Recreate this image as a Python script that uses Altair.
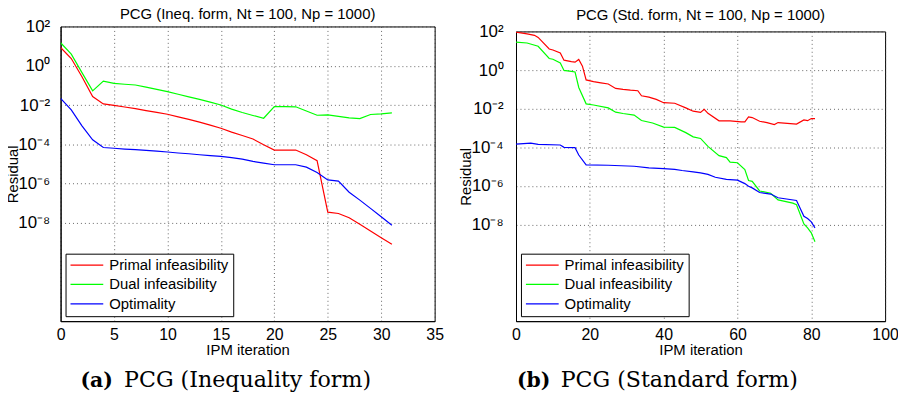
import altair as alt
import pandas as pd

# ---------------- data (log10 of residual) ----------------
series_names = ["Primal infeasibility", "Dual infeasibility", "Optimality"]
series_colors = ["#ff0000", "#00ff00", "#0000ff"]

# (a) Inequality form
ineq_iter = list(range(32))
ineq_primal = [0.93, 0.37, -0.56, -1.57, -1.94, -2.02, -2.10, -2.18, -2.28, -2.37, -2.47,
               -2.60, -2.73, -2.87, -3.02, -3.18, -3.38, -3.55, -3.73, -4.02, -4.29, -4.29,
               -4.29, -4.53, -4.83, -7.45, -7.52, -7.74, -8.07, -8.41, -8.75, -9.08]
ineq_dual = [1.17, 0.59, -0.35, -1.28, -0.78, -0.90, -0.94, -0.98, -1.09, -1.20, -1.32,
             -1.45, -1.58, -1.71, -1.85, -2.00, -2.21, -2.38, -2.53, -2.67, -2.08, -2.08,
             -2.09, -2.30, -2.52, -2.50, -2.58, -2.65, -2.69, -2.48, -2.45, -2.40]
ineq_opt = [-1.66, -2.25, -3.06, -3.77, -4.16, -4.20, -4.24, -4.27, -4.31, -4.35, -4.39,
            -4.44, -4.48, -4.53, -4.57, -4.61, -4.68, -4.75, -4.87, -4.96, -5.04, -5.04,
            -5.04, -5.16, -5.43, -5.81, -5.87, -6.44, -6.84, -7.26, -7.69, -8.12]

# (b) Standard form
std_primal_iter = [0, 3, 5, 6, 9, 10, 12, 13, 15, 16, 17, 18, 19, 21, 23, 25, 27, 29, 31, 33,
                   34, 36, 38, 40, 43, 46, 48, 50, 51, 52, 55, 58, 61, 62, 63, 64, 66, 68, 70,
                   71, 76, 78, 79, 80, 81]
std_primal = [1.96, 1.87, 1.80, 1.69, 1.09, 1.04, 0.89, 0.51, 0.44, 0.41, 0.55, 0.20, -0.51,
              -0.60, -0.66, -0.72, -0.95, -1.00, -1.04, -1.07, -1.33, -1.40, -1.52, -1.69,
              -1.72, -1.96, -2.13, -2.19, -2.03, -2.24, -2.63, -2.63, -2.68, -2.68, -2.43,
              -2.46, -2.65, -2.72, -2.82, -2.72, -2.80, -2.58, -2.62, -2.51, -2.51]
std_dual_iter = [0, 3, 6, 9, 10, 12, 13, 15, 16, 17, 19, 21, 25, 27, 29, 32, 34, 37, 40, 43,
                 46, 48, 50, 52, 55, 57, 58, 60, 62, 63, 64, 66, 69, 71, 75, 76, 78, 79, 80, 81]
std_dual = [1.45, 1.40, 1.23, 0.60, 0.56, 0.37, -0.02, -0.07, -0.10, -0.90, -1.75, -1.81,
            -1.96, -2.18, -2.25, -2.33, -2.61, -2.74, -2.95, -2.97, -3.24, -3.46, -3.54,
            -3.95, -4.43, -4.53, -4.77, -4.80, -5.15, -5.72, -5.76, -6.26, -6.38, -6.72,
            -6.89, -6.97, -7.97, -8.17, -8.43, -8.89]
std_opt_iter = [0, 4, 6, 12, 13, 16, 17, 19, 25, 32, 36, 40, 43, 45, 48, 50, 52, 54, 57, 60,
                62, 63, 64, 66, 69, 71, 76, 78, 79, 80, 81]
std_opt = [-3.83, -3.78, -3.85, -3.88, -4.00, -4.02, -4.40, -4.91, -4.93, -4.98, -5.06,
           -5.10, -5.14, -5.20, -5.27, -5.32, -5.40, -5.55, -5.66, -5.70, -5.88, -6.02,
           -6.10, -6.34, -6.42, -6.61, -6.75, -7.57, -7.69, -7.86, -8.17]

y_ticks = [2, 0, -2, -4, -6, -8]
y_sup = {2: "²", 0: "⁰", -2: "⁻²", -4: "⁻⁴", -6: "⁻⁶", -8: "⁻⁸"}
ineq_xticks = [0, 5, 10, 15, 20, 25, 30, 35]
std_xticks = [0, 20, 40, 60, 80, 100]

titles = ["PCG (Ineq. form, Nt = 100, Np = 1000)", "PCG (Std. form, Nt = 100, Np = 1000)"]
caption_tags = ["(a)", "(b)"]
caption_texts = ["PCG (Inequality form)", "PCG (Standard form)"]


def frame(iters_list, vals_list):
    rows = []
    for name, its, vs in zip(series_names, iters_list, vals_list):
        for i, v in zip(its, vs):
            rows.append({"iter": i, "res": v, "series": name})
    return pd.DataFrame(rows)


ineq_df = frame([ineq_iter, ineq_iter, ineq_iter], [ineq_primal, ineq_dual, ineq_opt])
std_df = frame([std_primal_iter, std_dual_iter, std_opt_iter], [std_primal, std_dual, std_opt])

label_expr = " : ".join(f"datum.value == {v} ? '10{y_sup[v]}'" for v in y_ticks) + " : ''"

SANS = "Liberation Sans"
SERIF = "DejaVu Serif"


def panel(df, title, xmax, xticks, width, height, tag, text,
          cap_x, cap_y, label_pad, title_x, title_y):
    lines = alt.Chart(df).mark_line(strokeWidth=1.2, clip=True).encode(
        x=alt.X("iter:Q",
                scale=alt.Scale(domain=[0, xmax], nice=False, zero=False),
                axis=alt.Axis(values=xticks, title="IPM iteration", format="d",
                              labelPadding=5.5, titlePadding=0, labelFlush=False)),
        y=alt.Y("res:Q",
                scale=alt.Scale(domain=[-13, 2], nice=False, zero=False),
                axis=alt.Axis(values=y_ticks, labelExpr=label_expr, title="Residual",
                              labelPadding=label_pad, titleX=title_x, titleY=height / 2,
                              titleBaseline="middle", titleAngle=270, labelFlush=False)),
        color=alt.Color("series:N",
                        scale=alt.Scale(domain=series_names, range=series_colors),
                        legend=alt.Legend(title=None, orient="bottom-left", offset=5,
                                          padding=4, strokeColor="black", fillColor="white",
                                          labelFontSize=15, labelFont=SANS, labelColor="black",
                                          symbolType="stroke", symbolSize=1089,
                                          symbolStrokeWidth=1.3, labelOffset=5,
                                          clipHeight=15, rowPadding=3.5, cornerRadius=0,
                                          labelLimit=300)),
    )
    title_layer = alt.Chart(pd.DataFrame({"t": [title]})).mark_text(
        align="center", baseline="alphabetic", font=SANS, fontSize=15,
        color="black").encode(
        text="t:N", x=alt.value(width / 2), y=alt.value(title_y))
    tag_layer = alt.Chart(pd.DataFrame({"t": [tag]})).mark_text(
        align="left", baseline="alphabetic", font=SERIF, fontSize=20.5,
        fontWeight="bold", color="black").encode(
        text="t:N", x=alt.value(cap_x), y=alt.value(cap_y))
    text_layer = alt.Chart(pd.DataFrame({"t": [text]})).mark_text(
        align="left", baseline="alphabetic", font=SERIF, fontSize=22.3,
        color="black").encode(
        text="t:N", x=alt.value(cap_x + 44), y=alt.value(cap_y))
    return alt.layer(lines, title_layer, tag_layer, text_layer).properties(
        width=width, height=height)


left = panel(ineq_df, titles[0], 35, ineq_xticks, 377, 297, caption_tags[0],
             caption_texts[0], 20, 363, 11, -48, -7.5)
right = panel(std_df, titles[1], 100, std_xticks, 372, 292, caption_tags[1],
              caption_texts[1], 1, 358, 13, -51, -11.5)

# 5px invisible spacer so the right plot sits slightly lower than the left one
spacer = alt.Chart(pd.DataFrame({"t": [0]})).mark_rule(opacity=0).encode(
    x=alt.value(0), x2=alt.value(1), y=alt.value(0)
).properties(width=372, height=5, view=alt.ViewBackground(stroke="transparent"))

right_col = alt.vconcat(spacer, right, spacing=0, bounds="flush").resolve_scale(
    color="independent")

chart = alt.hconcat(left, right_col, spacing=13).resolve_scale(
    color="independent").configure_view(
    stroke="black", strokeWidth=1).configure_axis(
    labelFont=SANS, labelFontSize=17, labelColor="black",
    titleFont=SANS, titleFontSize=15, titleFontWeight="normal", titleColor="black",
    grid=True, gridDash=[1, 3], gridColor="#333333", gridOpacity=0.75, gridWidth=1,
    ticks=False, domainColor="black").configure_axisX(
    labelFontSize=16).properties(
    padding={"left": -3, "top": -2.9, "right": -1, "bottom": 0})

chart.save("out.html", embed_options={"renderer": "svg", "actions": False})
